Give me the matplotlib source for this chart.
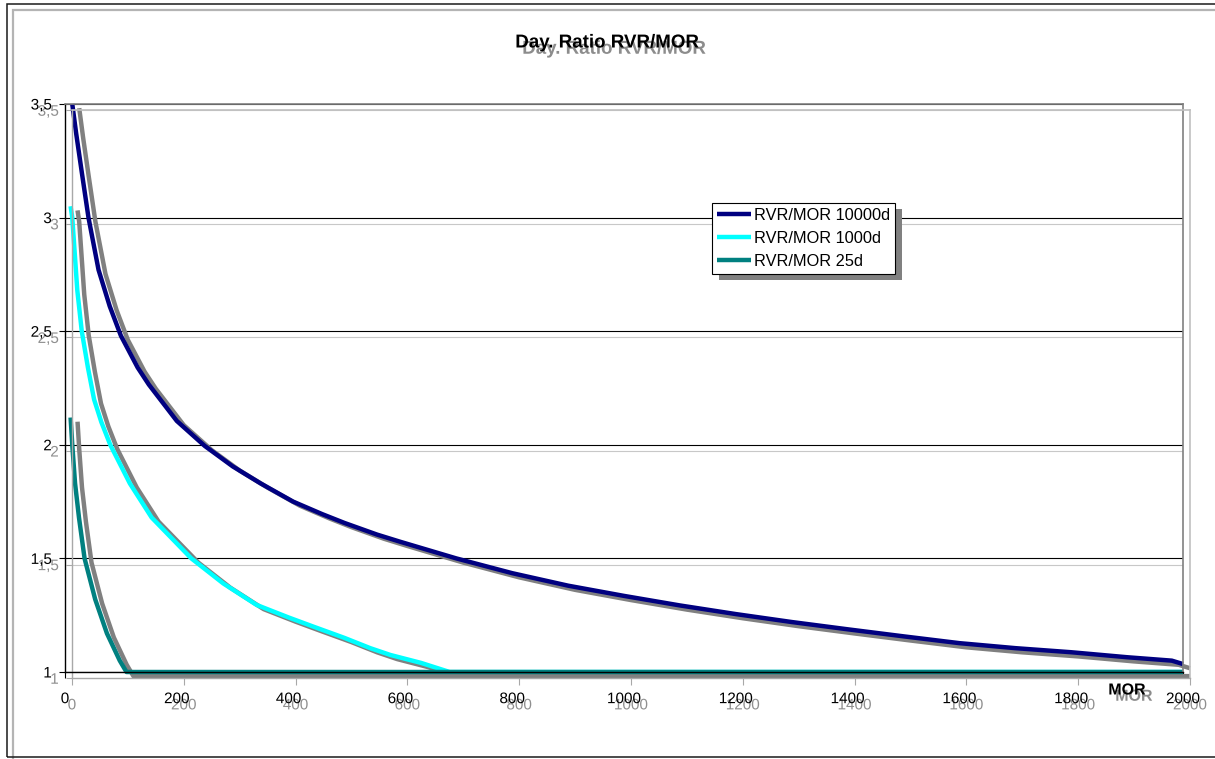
import matplotlib
matplotlib.use("Agg")
import matplotlib.pyplot as plt
import matplotlib.patheffects as pe
from matplotlib.patches import Rectangle

plt.rcParams['font.family'] = ['Liberation Sans', 'DejaVu Sans']

# ---- data ----
mor_10000 = [13, 20, 30, 42, 60, 80, 100, 130, 150, 200, 250, 300, 350, 408, 460, 500,
             558, 600, 700, 800, 900, 1000, 1100, 1200, 1300, 1400, 1500, 1600, 1700,
             1800, 1900, 1980, 2000]
rvr_10000 = [3.50, 3.37, 3.20, 3.00, 2.77, 2.61, 2.48, 2.34, 2.265, 2.105, 1.995, 1.905, 1.83,
             1.75, 1.695, 1.656, 1.605, 1.573, 1.50, 1.435, 1.38, 1.335, 1.293, 1.255, 1.22,
             1.188, 1.157, 1.127, 1.105, 1.087, 1.065, 1.050, 1.035]

mor_1000 = [10, 13, 22, 30, 41, 52, 65, 81, 116, 155, 226, 283, 343, 400, 444, 500, 546,
            582, 637, 688, 2000]
rvr_1000 = [3.05, 3.00, 2.68, 2.50, 2.34, 2.20, 2.10, 2.00, 1.83, 1.68, 1.50, 1.39, 1.295,
            1.24, 1.20, 1.15, 1.105, 1.075, 1.04, 1.00, 1.00]

mor_25 = [10, 13, 18, 25, 35, 54, 75, 98, 110, 2000]
rvr_25 = [2.12, 2.00, 1.83, 1.68, 1.50, 1.32, 1.17, 1.05, 1.00, 1.00]

series_labels = ["RVR/MOR 10000d", "RVR/MOR 1000d", "RVR/MOR 25d"]
series_colors = ["#000080", "#00FFFF", "#008080"]

x_ticks = [0, 200, 400, 600, 800, 1000, 1200, 1400, 1600, 1800, 2000]
y_ticks = [1, 1.5, 2, 2.5, 3, 3.5]
y_tick_labels = ["1", "1,5", "2", "2,5", "3", "3,5"]

title_text = "Day. Ratio RVR/MOR"
x_label_text = "MOR"

# ---- figure ----
W, H = 1215, 759
fig = plt.figure(figsize=(W / 100, H / 100), dpi=100)
fig.patch.set_facecolor("white")

def fx(px):
    return px / W

def fy(py):
    return 1 - py / H

SH = (5.0, -4.5)        # shadow offset for frame/grid/text (points)
SH_CURVE = (5.0, -3.0)  # shadow offset for the data curves (points)

def line_shadow(color, off=SH):
    return [pe.SimpleLineShadow(offset=off, shadow_color=color, alpha=1), pe.Normal()]

def text_shadow(color="#8f8f8f"):
    return [pe.SimplePatchShadow(offset=SH, shadow_rgbFace=color, alpha=1), pe.Normal()]

# outer chart-area frame
frame = Rectangle((fx(7), fy(757)), 1.2, fy(4) - fy(757), transform=fig.transFigure,
                  fill=False, edgecolor="#1a1a1a", linewidth=1.1,
                  path_effects=[pe.SimpleLineShadow(offset=(4.3, -4.3), shadow_color="#b4b4b4",
                                                    alpha=1, linewidth=1.6), pe.Normal()])
fig.add_artist(frame)

ax = fig.add_axes([fx(65), fy(672), fx(1183) - fx(65), fy(104) - fy(672)])
ax.set_facecolor("none")
ax.set_xlim(0, 2000)
ax.set_ylim(1, 3.5)
ax.set_axisbelow(True)

# series
for xs, ys, c, lab in zip([mor_10000, mor_1000, mor_25], [rvr_10000, rvr_1000, rvr_25],
                          series_colors, series_labels):
    ax.plot(xs, ys, color=c, linewidth=3.2, label=lab, clip_on=False,
            solid_capstyle="butt", solid_joinstyle="round",
            path_effects=line_shadow("#808080", SH_CURVE))

# ticks
ax.set_xticks(x_ticks)
ax.set_xticklabels([str(v) for v in x_ticks])
ax.set_yticks(y_ticks)
ax.set_yticklabels(y_tick_labels)
ax.tick_params(axis="both", direction="out", length=4.5, width=0.8, color="black",
               labelsize=11, labelcolor="black")
ax.tick_params(axis="x", pad=10)
ax.tick_params(axis="y", pad=5.0)

ax.yaxis.grid(True, color="black", linewidth=0.8)
ax.xaxis.grid(False)

for t in ax.yaxis.get_major_ticks():
    t.gridline.set_path_effects(line_shadow("#c8c8c8"))
    t.tick1line.set_path_effects(line_shadow("#a8a8a8"))
    t.label1.set_path_effects(text_shadow())
for t in ax.xaxis.get_major_ticks():
    t.tick1line.set_path_effects(line_shadow("#a8a8a8"))
    t.label1.set_path_effects(text_shadow())

# spines
for side in ["left", "bottom"]:
    ax.spines[side].set_color("black")
    ax.spines[side].set_linewidth(1.0)
    ax.spines[side].set_path_effects(line_shadow("#a8a8a8"))
for side in ["top", "right"]:
    ax.spines[side].set_color("#808080")
    ax.spines[side].set_linewidth(1.2)
    ax.spines[side].set_path_effects(line_shadow("#c0c0c0"))

# legend
leg = ax.legend(loc="upper left", bbox_to_anchor=(fx(712), fy(203)),
                bbox_transform=fig.transFigure, borderaxespad=0, frameon=True,
                fancybox=False, shadow=False, fontsize=11.8, handlelength=2.1,
                handletextpad=0.15, borderpad=0.3, labelspacing=0.48, framealpha=1)
fr = leg.get_frame()
fr.set_edgecolor("black")
fr.set_linewidth(0.8)
fr.set_facecolor("white")
fr.set_path_effects([pe.SimplePatchShadow(offset=SH, shadow_rgbFace="#808080", alpha=1),
                     pe.Normal()])
for h in leg.get_lines():
    h.set_linewidth(3.2)
    h.set_path_effects([])
leg.set_zorder(10)

# title and axis label
fig.text(fx(607), fy(43), title_text, ha="center", va="center", fontsize=13.5,
         fontweight="bold", path_effects=text_shadow("#8c8c8c"))
fig.text(fx(1127), fy(690), x_label_text, ha="center", va="center", fontsize=11.5,
         fontweight="bold", path_effects=text_shadow("#8c8c8c"))

fig.savefig("out.png", dpi=100, facecolor="white")
